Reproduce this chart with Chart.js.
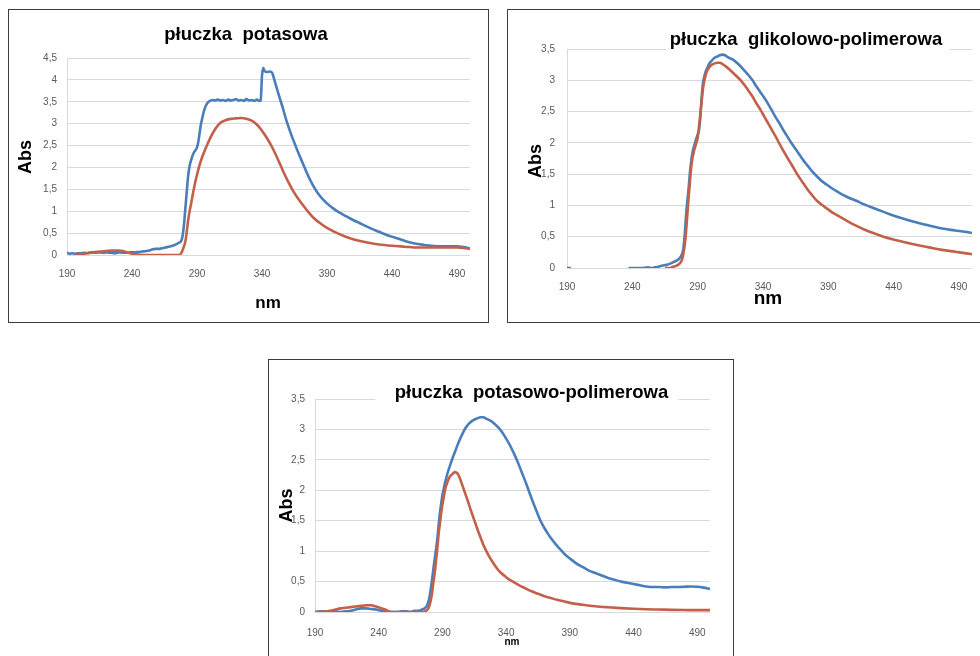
<!DOCTYPE html>
<html><head><meta charset="utf-8">
<script src="https://cdn.jsdelivr.net/npm/chart.js@4/dist/chart.umd.min.js"></script>
<style>
html,body{margin:0;padding:0;background:#fff;width:980px;height:656px;overflow:hidden;position:relative}
.panel{position:absolute;box-sizing:border-box;border:1px solid #3c3c3c;background:#fff}
.panel canvas{position:absolute;left:0;top:0}
</style></head><body>
<div class="panel" style="left:8px;top:9px;width:481px;height:314px"><canvas id="c1" width="479" height="312"></canvas></div>
<div class="panel" style="left:507px;top:9px;width:480px;height:314px"><canvas id="c2" width="478" height="312"></canvas></div>
<div class="panel" style="left:268px;top:359px;width:466px;height:310px"><canvas id="c3" width="464" height="308"></canvas></div>
<script>
// ---- tick labels ----
const xTickValues = [190,240,290,340,390,440,490];

// ---- płuczka potasowa ----
const potBlueNm = [190,192,194,196,198,200,203,206,209,212,215,218,221,224,227,230,233,236,239,242,245,248,251,254,256,258,261,264,267,270,273,276,278,279,280,281,282,283,284,285,286,287,288,289,290,291,292,293,294,295,296,297,298,299,300,302,304,306,308,310,312,314,316,318,320,322,324,326,328,330,332,334,336,338,339,340,341,342,344,346,348,350,352,354,356,358,360,362,364,366,368,370,372,374,376,378,380,383,386,390,395,400,405,410,415,420,425,430,435,440,445,450,455,460,465,470,475,480,485,490,495,500];
const potBlueAbs = [0.05,0.03,0.04,0.03,0.04,0.04,0.05,0.04,0.06,0.05,0.06,0.05,0.06,0.05,0.04,0.06,0.05,0.05,0.06,0.06,0.07,0.08,0.09,0.11,0.13,0.14,0.14,0.16,0.18,0.2,0.23,0.28,0.33,0.45,0.7,1.05,1.4,1.75,1.98,2.12,2.22,2.3,2.36,2.4,2.46,2.58,2.78,2.98,3.12,3.25,3.35,3.42,3.47,3.5,3.52,3.54,3.53,3.55,3.53,3.54,3.52,3.55,3.53,3.54,3.56,3.53,3.54,3.52,3.56,3.53,3.54,3.52,3.55,3.52,3.53,4.1,4.27,4.2,4.18,4.19,4.15,3.95,3.75,3.55,3.36,3.15,2.96,2.79,2.63,2.48,2.33,2.19,2.05,1.91,1.78,1.66,1.55,1.41,1.3,1.18,1.06,0.96,0.88,0.8,0.73,0.66,0.59,0.53,0.47,0.42,0.37,0.32,0.28,0.25,0.23,0.21,0.2,0.2,0.2,0.2,0.18,0.15];
const potRedNm = [196,200,205,210,215,220,225,230,233,236,240,244,248,252,260,270,276,278,280,281,282,283,284,285,286,287,288,289,290,292,294,296,298,301,304,308,312,316,320,324,328,332,336,340,344,348,352,356,360,364,368,372,376,380,385,390,395,400,405,410,420,430,440,450,460,470,480,490,495,500];
const potRedAbs = [0,0.01,0.04,0.06,0.08,0.09,0.1,0.1,0.09,0.06,0.03,0.01,0,0,0,0,0,0.05,0.2,0.3,0.5,0.75,0.95,1.1,1.26,1.42,1.57,1.71,1.83,2.06,2.24,2.39,2.53,2.72,2.88,3.02,3.08,3.11,3.12,3.13,3.11,3.07,2.98,2.84,2.66,2.45,2.2,1.93,1.68,1.46,1.28,1.12,0.97,0.84,0.72,0.62,0.54,0.47,0.41,0.36,0.29,0.24,0.21,0.19,0.17,0.17,0.17,0.17,0.16,0.14];

// ---- płuczka glikolowo-polimerowa ----
const glikBlueNm = [190,193,194,237,242,247,252,255,257,260,263,266,269,272,275,277,278,279,280,281,282,283,284,285,286,287,288,289,290,291,292,293,294,295,296,297,299,301,303,305,307,309,311,313,315,317,320,323,326,329,332,335,338,341,344,347,350,353,356,359,362,365,368,371,374,377,381,385,389,393,397,402,407,412,417,422,427,437,447,457,467,477,487,497,500];
const glikBlueAbs = [0,0,null,0,0,0,0.01,0,0.01,0.02,0.04,0.05,0.07,0.1,0.13,0.18,0.22,0.3,0.5,0.8,1.05,1.25,1.5,1.7,1.84,1.93,2.0,2.07,2.13,2.2,2.4,2.7,2.95,3.05,3.13,3.18,3.27,3.32,3.36,3.38,3.4,3.41,3.4,3.37,3.35,3.33,3.28,3.22,3.15,3.08,3.0,2.9,2.81,2.72,2.62,2.51,2.4,2.3,2.19,2.09,1.99,1.9,1.81,1.72,1.64,1.56,1.47,1.39,1.33,1.27,1.22,1.16,1.11,1.07,1.02,0.98,0.94,0.86,0.79,0.73,0.68,0.63,0.6,0.57,0.56];
const glikRedNm = [265,269,271,273,275,277,278,279,280,281,282,283,284,285,286,287,288,289,290,291,292,293,294,295,296,297,299,301,303,305,307,309,311,314,317,320,323,326,329,332,335,338,341,344,347,350,353,356,359,362,365,368,371,374,377,381,385,389,393,397,402,407,412,417,427,437,447,457,467,477,487,497,500];
const glikRedAbs = [0,0,0.02,0.03,0.05,0.09,0.13,0.22,0.35,0.55,0.82,1.1,1.35,1.6,1.75,1.85,1.93,2.0,2.08,2.25,2.45,2.65,2.85,2.98,3.07,3.14,3.21,3.25,3.27,3.28,3.28,3.26,3.23,3.18,3.12,3.06,3.0,2.92,2.83,2.74,2.63,2.53,2.42,2.31,2.2,2.09,1.97,1.86,1.75,1.65,1.54,1.44,1.35,1.26,1.18,1.08,1.01,0.95,0.89,0.84,0.78,0.72,0.67,0.62,0.54,0.47,0.42,0.37,0.33,0.29,0.26,0.23,0.22];

// ---- płuczka potasowo-polimerowa ----
const ppBlueNm = [190,194,198,202,206,210,214,218,222,226,230,234,238,242,246,250,254,258,262,265,268,271,274,276,278,279,280,281,282,283,284,285,286,287,288,289,290,291,292,293,294,296,298,300,302,304,306,308,311,314,317,320,322,325,328,331,334,337,340,343,346,349,352,355,358,361,364,367,370,373,376,379,382,386,390,395,400,405,410,415,420,425,430,435,440,445,450,455,460,465,470,475,480,485,490,495,500];
const ppBlueAbs = [0,0.01,0.01,0,0.01,0,0.01,0.02,0.04,0.06,0.06,0.05,0.04,0.02,0.01,0,0,0.01,0.01,0,0.02,0.02,0.04,0.06,0.11,0.17,0.26,0.4,0.55,0.72,0.88,1.03,1.2,1.42,1.62,1.78,1.92,2.02,2.12,2.2,2.28,2.41,2.53,2.64,2.75,2.85,2.94,3.02,3.1,3.15,3.18,3.2,3.2,3.17,3.14,3.09,3.03,2.95,2.85,2.74,2.61,2.47,2.31,2.15,1.98,1.81,1.65,1.5,1.38,1.28,1.19,1.11,1.04,0.95,0.88,0.8,0.74,0.68,0.64,0.6,0.56,0.53,0.5,0.48,0.46,0.44,0.42,0.41,0.41,0.405,0.41,0.41,0.415,0.42,0.415,0.4,0.38];
const ppRedNm = [190,194,198,202,206,210,214,218,222,226,230,234,238,242,245,248,251,256,262,268,274,277,279,280,281,282,283,284,285,286,287,288,289,290,291,292,293,294,295,296,297,298,299,300,301,302,303,304,305,306,307,308,310,312,314,316,318,320,322,324,327,330,333,336,339,342,346,350,355,360,365,370,375,380,385,390,400,410,420,430,440,450,460,470,480,490,500];
const ppRedAbs = [0,0,0.01,0.02,0.04,0.06,0.07,0.08,0.09,0.1,0.11,0.11,0.09,0.06,0.04,0.01,0,0,0,0,0,0.02,0.06,0.12,0.2,0.33,0.5,0.65,0.85,1.05,1.28,1.45,1.62,1.76,1.88,2.0,2.08,2.14,2.19,2.23,2.25,2.27,2.29,2.3,2.29,2.27,2.23,2.18,2.12,2.06,2.0,1.94,1.82,1.69,1.57,1.45,1.33,1.22,1.11,1.02,0.9,0.8,0.71,0.64,0.59,0.54,0.49,0.44,0.39,0.34,0.3,0.26,0.23,0.2,0.175,0.15,0.12,0.095,0.078,0.064,0.053,0.045,0.04,0.035,0.032,0.03,0.03];

const FONT = '"Liberation Sans", Arial, sans-serif';
const BLUE = '#4a7ebb';
const RED = '#c2604a';

function pts(xs, ys){ return xs.map((x,i)=>({x:x, y:(ys[i]===undefined?null:ys[i])})); }

const panelText = {
  id:'panelText',
  afterDraw(chart, args, o){
    const ctx = chart.ctx;
    ctx.save();
    if (o.rect){
      ctx.fillStyle = '#fff';
      ctx.fillRect(o.rect[0], o.rect[1], o.rect[2]-o.rect[0], o.rect[3]-o.rect[1]);
    }
    ctx.fillStyle = '#000';
    ctx.textAlign = 'center';
    ctx.textBaseline = 'middle';
    ctx.font = 'bold ' + o.titleSize + 'px ' + FONT;
    ctx.fillText(o.title, o.titleX, o.titleY);
    ctx.font = 'bold ' + o.nmSize + 'px ' + FONT;
    ctx.fillText('nm', o.nmX, o.nmY);
    ctx.translate(o.absX, o.absY);
    ctx.rotate(-Math.PI/2);
    ctx.font = 'bold ' + o.absSize + 'px ' + FONT;
    ctx.fillText('Abs', 0, 0);
    ctx.restore();
  }
};

function makeChart(id, cfg){
  const comma = v => String(v).replace('.', ',');
  const ds = (xs, ys, color) => ({data:pts(xs, ys), borderColor:color, borderWidth:2.6, pointRadius:0,
    cubicInterpolationMode:'monotone', spanGaps:false});
  return new Chart(document.getElementById(id), {
    type:'line',
    data:{datasets:[ ds(cfg.redNm, cfg.redAbs, RED), ds(cfg.blueNm, cfg.blueAbs, BLUE) ]},
    options:{
      responsive:false, animation:false,
      layout:{padding:{left:0, top:cfg.top, right:cfg.right, bottom:0}},
      plugins:{legend:{display:false}, tooltip:{enabled:false}, title:{display:false}, panelText:cfg.text},
      scales:{
        x:{type:'linear', min:190, max:500,
           afterBuildTicks:s=>{ s.ticks = xTickValues.map(v=>({value:v})); },
           afterFit:s=>{ s.height = cfg.xh; },
           grid:{display:false, drawTicks:false}, border:{display:false},
           ticks:{padding:cfg.xpad, color:'#595959', font:{family:FONT, size:10}, maxRotation:0, autoSkip:false, callback:v=>String(v)}},
        y:{min:0, max:cfg.ymax,
           afterFit:s=>{ s.width = cfg.left; },
           grid:{color:'#d9d9d9', lineWidth:1, drawTicks:false}, border:{display:true, color:'#d9d9d9'},
           ticks:{stepSize:0.5, padding:cfg.ypad, color:'#595959', font:{family:FONT, size:10}, callback:comma}}
      }
    },
    plugins:[panelText]
  });
}

makeChart('c1', {blueNm:potBlueNm, blueAbs:potBlueAbs, redNm:potRedNm, redAbs:potRedAbs,
  ymax:4.5, left:58, top:48, right:18, xh:67, xpad:13, ypad:10,
  text:{title:'płuczka  potasowa', titleX:237, titleY:25, titleSize:18.5, rect:null,
        absX:17, absY:147, absSize:18, nmX:259, nmY:293, nmSize:17}});

makeChart('c2', {blueNm:glikBlueNm, blueAbs:glikBlueAbs, redNm:glikRedNm, redAbs:glikRedAbs,
  ymax:3.5, left:59, top:39, right:14, xh:54, xpad:13, ypad:12,
  text:{title:'płuczka  glikolowo-polimerowa', titleX:298, titleY:30, titleSize:18.5, rect:[158,19,442,42],
        absX:28, absY:151, absSize:18, nmX:260, nmY:289, nmSize:19}});

makeChart('c3', {blueNm:ppBlueNm, blueAbs:ppBlueAbs, redNm:ppRedNm, redAbs:ppRedAbs,
  ymax:3.5, left:46, top:39, right:23, xh:56, xpad:15, ypad:10,
  text:{title:'płuczka  potasowo-polimerowa', titleX:262.5, titleY:33, titleSize:18.5, rect:[106,22,409,45],
        absX:18, absY:145.5, absSize:18, nmX:243, nmY:282, nmSize:10}});
</script>
</body></html>
